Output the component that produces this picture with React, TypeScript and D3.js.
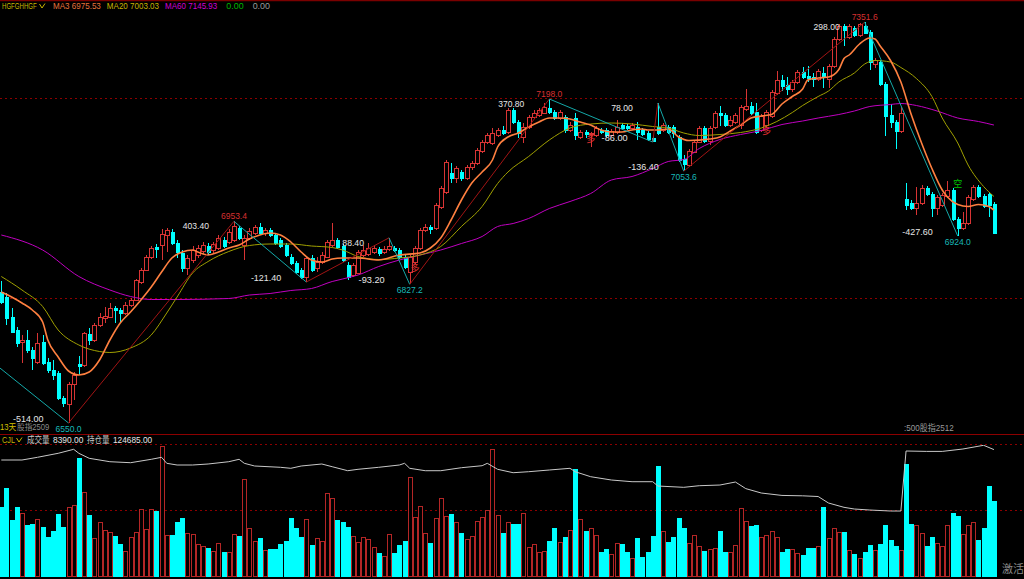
import React from 'react';
import * as d3 from 'd3';

// ---------- DATA ----------
// [open, high, low, close]
const candles: [number, number, number, number][] = [
  [6812,6834,6788,6792],[6802,6810,6746,6760],[6762,6780,6730,6732],[6736,6742,6702,6710],[6712,6726,6670,6716],
  [6716,6736,6690,6696],[6696,6702,6656,6680],[6672,6730,6668,6710],[6712,6726,6666,6670],[6672,6680,6650,6656],
  [6656,6676,6636,6646],[6650,6654,6596,6600],[6600,6604,6582,6590],[6588,6632,6550,6628],[6628,6652,6596,6646],
  [6668,6684,6646,6664],[6666,6732,6662,6730],[6728,6740,6706,6716],[6716,6750,6712,6746],[6746,6770,6742,6762],
  [6760,6782,6750,6764],[6762,6790,6760,6780],[6780,6784,6750,6776],[6776,6780,6750,6770],[6770,6792,6766,6786],
  [6786,6800,6782,6796],[6796,6838,6794,6836],[6832,6860,6828,6856],[6856,6886,6854,6882],[6882,6904,6878,6900],
  [6902,6908,6880,6898],[6906,6938,6876,6928],[6926,6940,6892,6936],[6932,6938,6906,6910],[6910,6916,6880,6892],
  [6890,6896,6852,6860],[6860,6886,6846,6880],[6876,6904,6870,6896],[6886,6906,6880,6900],[6894,6912,6888,6906],
  [6904,6910,6886,6892],[6896,6912,6890,6908],[6900,6926,6896,6920],[6916,6922,6900,6904],[6912,6938,6908,6932],
  [6916,6953.4,6912,6944],[6940,6944,6916,6920],[6906,6926,6876,6920],[6920,6940,6916,6934],[6930,6946,6926,6942],
  [6942,6950,6926,6930],[6930,6940,6924,6936],[6936,6940,6922,6926],[6926,6930,6906,6910],[6916,6920,6900,6904],
  [6906,6910,6882,6886],[6882,6888,6866,6870],[6870,6874,6848,6852],[6856,6860,6838,6842],[6842,6884,6832,6880],
  [6880,6886,6852,6856],[6860,6882,6852,6872],[6872,6892,6868,6886],[6882,6916,6880,6912],[6906,6950,6902,6916],
  [6916,6920,6898,6902],[6904,6908,6872,6876],[6866,6872,6836,6842],[6846,6870,6842,6866],[6850,6896,6848,6892],
  [6886,6906,6882,6896],[6888,6910,6884,6900],[6892,6906,6888,6900],[6898,6902,6884,6890],[6892,6904,6888,6898],
  [6898,6920.4,6894,6904],[6900,6904,6892,6896],[6896,6900,6878,6882],[6882,6886,6858,6862],[6852,6886,6827.2,6882],
  [6872,6904,6868,6900],[6900,6940,6896,6936],[6936,6948,6932,6942],[6942,6946,6928,6938],[6940,6990,6936,6986],
  [6982,7024,6978,7020],[7012,7076,7008,7072],[7050,7070,7030,7040],[7040,7064,7030,7060],[7052,7056,7034,7040],
  [7040,7066,7036,7062],[7062,7074,7056,7070],[7070,7100,7066,7096],[7094,7116,7090,7112],[7112,7130,7108,7126],
  [7110,7140,7106,7130],[7126,7140,7122,7136],[7136,7144,7126,7130],[7132,7180,7128,7176],[7176,7180,7148,7152],
  [7152,7156,7120,7130],[7122,7150,7110,7142],[7142,7166,7138,7162],[7162,7176,7158,7170],[7166,7180,7162,7176],
  [7170,7190,7168,7182],[7180,7198,7168,7172],[7172,7176,7156,7160],[7160,7176,7156,7172],[7162,7166,7130,7136],
  [7136,7152,7132,7146],[7160,7170,7116,7126],[7122,7136,7118,7132],[7132,7136,7120,7128],[7128,7132,7102,7130],
  [7126,7144,7122,7140],[7136,7140,7128,7132],[7136,7140,7122,7126],[7126,7138,7122,7134],[7132,7156,7128,7142],
  [7146,7150,7136,7140],[7144,7148,7136,7140],[7140,7150,7136,7146],[7142,7152,7116,7132],[7136,7140,7124,7128],
  [7130,7134,7114,7118],[7120,7124,7112,7114],[7142,7190,7126,7130],[7136,7150,7132,7146],[7142,7146,7128,7132],
  [7142,7146,7120,7130],[7122,7126,7072,7076],[7078,7086,7053.6,7068],[7066,7098,7062,7094],[7092,7116,7090,7112],
  [7112,7144,7110,7140],[7140,7144,7110,7114],[7114,7144,7106,7140],[7142,7174,7138,7170],[7170,7184,7144,7166],
  [7166,7170,7142,7146],[7146,7164,7142,7156],[7152,7170,7148,7166],[7146,7186,7138,7182],[7178,7218,7174,7184],
  [7184,7192,7166,7170],[7172,7190,7128,7132],[7136,7168,7132,7164],[7146,7176,7140,7172],[7164,7216,7160,7212],
  [7210,7254,7206,7236],[7236,7246,7214,7224],[7226,7242,7206,7218],[7218,7236,7212,7232],[7232,7256,7228,7252],
  [7252,7262,7238,7242],[7244,7264,7232,7240],[7242,7250,7222,7238],[7238,7258,7234,7254],[7250,7262,7220,7242],
  [7238,7268,7220,7264],[7264,7322,7260,7318],[7318,7348,7314,7344],[7344,7348,7304,7336],[7322,7348,7318,7344],
  [7340,7344,7322,7326],[7326,7350,7322,7348],[7344,7351.6,7328,7330],[7332,7336,7256,7272],[7268,7280,7260,7276],
  [7272,7276,7224,7228],[7228,7232,7124,7164],[7166,7188,7140,7152],[7152,7156,7098,7134],[7134,7182,7130,7170],
  [6998,7030,6976,6986],[6990,6996,6976,6980],[6980,7022,6966,6990],[6990,7026,6986,7020],[7020,7024,7004,7008],
  [7008,7012,6962,6980],[6980,7006,6966,7002],[6986,7010,6982,7006],[7004,7034,7000,7016],[7016,7020,6954,6958],
  [6958,6962,6924,6940],[6940,6972,6936,6950],[6950,7006,6946,7002],[6998,7026,6994,7022],[7022,7026,7000,7004],
  [7004,7008,6980,6984],[7008,7012,6962,6986],[6988,6992,6928,6930],
];

const volumes: number[] = [
  7728,9856,6272,7728,7056,5712,5824,6384,5488,4368,5040,6944,5488,7728,7952,13216,9408,6832,4256,6048,
  5152,4928,4480,3584,2800,4368,4928,7504,5264,7504,7280,14560,4592,4592,6048,6496,4816,4704,3584,3360,
  3136,2800,3696,2688,2688,4704,4480,10864,5376,3920,4256,2912,3024,3024,3584,3920,6496,5376,4368,6384,
  3472,4256,3920,9296,8736,6272,6048,5488,4480,3808,4368,4144,3248,2576,2240,4704,2576,3472,3920,11088,
  6608,7840,4816,3696,6496,8736,6720,6944,6048,4816,4144,4480,6160,6608,7392,14224,6832,4816,6048,5824,
  5824,7056,3248,3584,2688,2800,3920,5376,3808,4368,5152,11984,6384,5040,5376,4592,2688,3024,2464,3696,
  3584,2688,2016,4256,2128,2688,4480,12320,5040,3808,4368,6496,5376,3696,4592,3360,2800,3024,3136,5040,
  2688,2688,3472,7616,6160,5600,5712,4368,4592,5040,4368,2688,3024,3024,2576,2352,3136,3136,3360,7728,
  4256,5376,4928,4928,2912,2464,2016,2688,3472,2912,3584,5712,4032,3360,2912,12544,5880,5712,4816,3360,
  4368,3696,3360,5712,7056,6720,4704,5712,6048,4032,5376,10080,8390,
];

// moving averages: [candle index, value]
const ma3Pts: [number, number][] = [
  [0,6812],[2,6802],[4,6790],[6,6776],[8,6752],[9,6716],[11,6682],[13,6654],[15,6646],[17,6652],[19,6676],
  [21,6716],[23,6750],[25,6772],[27,6796],[29,6822],[31,6852],[33,6880],[35,6892],[37,6896],[38,6892],[40,6886],
  [42,6892],[44,6900],[46,6906],[48,6918],[50,6926],[52,6930],[54,6926],[56,6912],[58,6892],[60,6876],[62,6872],
  [64,6878],[66,6880],[69,6880],[73,6876],[77,6886],[81,6890],[83,6900],[85,6920],[87,6956],[89,6996],[91,7030],
  [93,7052],[95,7076],[96,7102],[98,7122],[100,7130],[102,7142],[104,7152],[106,7160],[108,7160],[110,7158],
  [112,7152],[114,7146],[116,7136],[118,7132],[120,7132],[122,7136],[124,7138],[125,7136],[127,7136],[129,7138],
  [131,7122],[133,7115],[137,7118],[139,7122],[141,7134],[143,7146],[145,7160],[147,7164],[149,7167],[151,7188],
  [153,7203],[155,7218],[156,7236],[158,7240],[160,7242],[162,7257],[163,7279],[164,7286],[166,7308],[168,7320],
  [169,7318],[170,7304],[172,7275],[174,7232],[176,7167],[178,7110],[180,7059],[182,7016],[183,7002],[185,6987],
  [187,6983],[189,6987],[191,6983],[192,6975.53],
];
const ma20Pts: [number, number][] = [
  [0,6843],[4,6816],[8,6783],[11,6736],[15,6706],[19,6693],[21,6691],[25,6700],[29,6726],[32,6770],[34,6802],
  [37,6850],[40,6873],[44,6893],[48,6905],[52,6908],[56,6908],[60,6904],[64,6901],[66,6896],[69,6883],[73,6877],
  [77,6880],[81,6886],[85,6903],[89,6943],[93,6983],[96,7029],[98,7052],[102,7083],[106,7116],[110,7140],
  [114,7148],[118,7150],[122,7148],[126,7143],[129,7140],[132,7130],[135,7125],[139,7127],[143,7131],[147,7140],
  [150,7153],[153,7171],[155,7185],[158,7203],[160,7214],[162,7232],[165,7250],[167,7268],[169,7275],[172,7272],
  [174,7261],[177,7239],[180,7203],[182,7160],[185,7110],[187,7066],[190,7023],[192,7003.03],
];
const ma60Pts: [number, number][] = [
  [0,6926],[8,6896],[15,6843],[21,6816],[25,6803],[29,6797],[34,6797],[44,6799],[48,6806],[52,6809],[56,6815],
  [60,6819],[64,6833],[66,6838],[69,6846],[73,6863],[77,6876],[81,6886],[85,6896],[89,6909],[93,6923],[96,6943],
  [99,6949],[102,6959],[106,6979],[110,6993],[114,7009],[118,7036],[122,7043],[126,7059],[129,7073],[132,7077],
  [135,7099],[139,7117],[143,7127],[147,7135],[151,7147],[155,7154],[158,7160],[162,7167],[165,7174],[168,7183],
  [172,7187],[174,7189],[177,7185],[181,7174],[185,7160],[189,7153],[192,7145.93],
];
// open interest: [candle index, value]
const oiPts: [number, number][] = [
  [0,119485],[4,119485],[7,120835],[11,122835],[14,124835],[15,122835],[17,120335],[21,118635],[25,118135],
  [29,119835],[31,120835],[32,117835],[34,116985],[37,116985],[40,117485],[44,118635],[46,119835],[47,117835],
  [49,116485],[54,115835],[56,115335],[58,116485],[62,117485],[64,116135],[67,114135],[69,114835],[73,115835],
  [77,116985],[78,117835],[79,115335],[82,114135],[85,114135],[89,115635],[93,116635],[94,117835],[96,114835],
  [99,113135],[102,113635],[106,114485],[110,115335],[111,113635],[114,111135],[118,109485],[122,108635],
  [126,108635],[127,106485],[132,105835],[135,106635],[139,106985],[142,108485],[144,105185],[147,102985],
  [151,101785],[155,101585],[158,101235],[160,97985],[163,95835],[165,94985],[168,94485],[172,93985],[174,93985],
  [175,123985],[179,123785],[182,123785],[186,124985],[190,126835],[192,124685],
];
// zigzag pivots: [candle index, price, show price label]
const pivots: [number, number, boolean][] = [
  [-49,7064,false],[13,6550,true],[45,6953.4,true],[59,6832,false],[75,6920.4,false],[79,6827.2,true],
  [106,7198,true],[126,7112,false],[127,7190,false],[132,7053.6,true],[167,7351.6,true],[185,6924,true],
];
const priceGrid = [6800, 7200];
const volGrid = [7400, 14800];
// signal marks: [candle index, price, text, kind]
const signals: [number, number, string, string][] = [
  [80, 6862, '多', 'up'], [114, 7120, '多', 'up'], [148, 7136, '多', 'up'], [185, 7030, '空', 'dn'],
];

const legend: [string, string][] = [
  ['MA3 6975.53', '#e8743c'], ['MA20 7003.03', '#c8b400'], ['MA60 7145.93', '#d000d0'],
  ['0.00', '#00b400'], ['0.00', '#9a9a9a'],
];

// ---------- STYLE ----------
const UP = '#d83434';
const UPV = '#b42626';
const DN = '#00ffff';
const FONT = "'Liberation Sans', Arial, sans-serif";
const CJK = "'Noto Sans CJK SC', sans-serif";

const tlen = (s: string) => {
  let w = 0;
  for (const ch of s) w += /[\u2E80-\u9FFF\uFF00-\uFFEF]/.test(ch) ? 7.5 : 4.35;
  return w;
};

function T({ x, y, s, fill, anchor = 'start', size = 9 }: any) {
  return (
    <text x={x} y={y} fill={fill} fontSize={size} fontFamily={FONT + ',' + CJK}
      textAnchor={anchor} dominantBaseline="central"
      textLength={tlen(s)} lengthAdjust="spacingAndGlyphs">{s}</text>
  );
}

export default function App() {
  const N = candles.length;
  const x = d3.scaleLinear().domain([0, N - 1]).range([1.3, 1.3 + 5.17 * (N - 1)]);
  const yP = d3.scaleLinear().domain([6800, 7200]).range([298, 98]);
  const yV = d3.scaleLinear().domain([0, 14800]).range([576, 444]);
  const yOI = d3.scaleLinear().domain([94000, 124685]).range([511, 449.6]);

  const mkLine = (pts: [number, number][], ys: any, curve: any = d3.curveMonotoneX) =>
    d3.line<[number, number]>().x(d => x(d[0])).y(d => ys(d[1])).curve(curve)(pts) || '';

  const legs = pivots.slice(1).map((p, k) => {
    const a = pivots[k];
    return { a, b: p, up: p[1] > a[1], diff: p[1] - a[1] };
  });

  let lx = 53;
  const legendEls = legend.map(([s, c], k) => {
    const el = <T key={k} x={lx} y={6} s={s} fill={c} />;
    lx += tlen(s) + (k < 2 ? 6 : 9);
    return el;
  });

  return (
    <>
      <style>{`body{margin:0;background:#000;overflow:hidden}`}</style>
      <svg width={1024} height={579} style={{ display: 'block', background: '#000' }}>
        <defs>
          <clipPath id="cp"><rect x={0} y={12} width={1024} height={422} /></clipPath>
          <clipPath id="cv"><rect x={0} y={445} width={1024} height={134} /></clipPath>
        </defs>
        <rect width={1024} height={579} fill="#000" />
        <line x1={0} x2={1024} y1={0.5} y2={0.5} stroke="#7a0000" strokeWidth={1.5} />
        <line x1={0} x2={1024} y1={434.5} y2={434.5} stroke="#8c0000" />
        {priceGrid.map(v => (
          <line key={v} x1={0} x2={1024} y1={Math.round(yP(v)) + 0.5} y2={Math.round(yP(v)) + 0.5}
            stroke="#8c0000" strokeDasharray="2,3" />
        ))}
        {volGrid.map(v => (
          <line key={v} x1={0} x2={1024} y1={Math.round(yV(v)) + 0.5} y2={Math.round(yV(v)) + 0.5}
            stroke="#8c0000" strokeDasharray="2,3" />
        ))}

        <g clipPath="url(#cp)">
          <g shapeRendering="crispEdges">
            {candles.map(([o, h, l, c], i) => {
              const cx = Math.round(x(i));
              const up = c >= o;
              const top = yP(Math.max(o, c));
              const bot = yP(Math.min(o, c));
              const bh = Math.max(1, bot - top);
              if (up) {
                return (
                  <g key={i} stroke={UP}>
                    <line x1={cx + 0.5} x2={cx + 0.5} y1={yP(h)} y2={top} />
                    <line x1={cx + 0.5} x2={cx + 0.5} y1={top + bh} y2={yP(l)} />
                    <rect x={cx - 1.5} y={top} width={4} height={bh} fill="#000" />
                  </g>
                );
              }
              return (
                <g key={i}>
                  <line x1={cx + 0.5} x2={cx + 0.5} y1={yP(h)} y2={yP(l)} stroke={DN} />
                  <rect x={cx - 1.5} y={top} width={4} height={bh + 0.5} fill={DN} />
                </g>
              );
            })}
          </g>
          <path d={mkLine(ma60Pts, yP)} fill="none" stroke="#c000c0" strokeWidth={1} />
          <path d={mkLine(ma20Pts, yP)} fill="none" stroke="#a0a000" strokeWidth={1} />
          <path d={mkLine(ma3Pts, yP)} fill="none" stroke="#ff8040" strokeWidth={1.6} />
          {legs.map((g, k) => (
            <line key={k} x1={x(g.a[0])} y1={yP(g.a[1])} x2={x(g.b[0])} y2={yP(g.b[1])}
              stroke={g.up ? '#a01414' : '#14a8a8'} strokeWidth={1} />
          ))}
          {signals.map(([i, p, s, k], n) => (
            <text key={n} x={x(i)} y={yP(p)} fontSize={9} fontFamily={CJK} textAnchor="middle"
              dominantBaseline="central" fill={k === 'up' ? '#e03030' : '#00c000'}>{s}</text>
          ))}
        </g>

        {legs.map((g, k) => {
          const px = x(g.b[0]);
          const py = yP(g.b[1]);
          const lab = g.diff.toFixed(2);
          return (
            <g key={k}>
              <T x={px - 25} y={py + (g.up ? 5 : -4.5)} s={lab} fill="#e6e6e6" anchor="end" />
              {g.b[2] && (
                <T x={px} y={py + (g.up ? -5 : 6)} s={g.b[1].toFixed(1)}
                  fill={g.up ? '#d83030' : '#18b8b8'} anchor="middle" />
              )}
            </g>
          );
        })}

        <T x={2} y={6} s="HGFGHHGF" fill="#c8b400" />
        <path d="M39.5,4 L42,8 L45,3.5" fill="none" stroke="#c8b400" strokeWidth={1} />
        {legendEls}

        <T x={0} y={427} s="13天" fill="#d2c000" size={8.5} />
        <T x={17} y={427} s="股指2509" fill="#8a8a8a" size={8.5} />
        <T x={904} y={428} s=":500股指2512" fill="#9a9a9a" />

        <T x={2} y={440} s="CJL" fill="#c8b400" />
        <path d="M16.5,438 L19,442 L22,437.5" fill="none" stroke="#c8b400" strokeWidth={1} />
        <T x={27} y={440} s="成交量" fill="#c8c8c8" />
        <T x={53} y={440} s="8390.00" fill="#e6e6e6" />
        <T x={87} y={440} s="持仓量" fill="#c8c8c8" />
        <T x={113} y={440} s="124685.00" fill="#e6e6e6" />

        <g clipPath="url(#cv)">
          <g shapeRendering="crispEdges">
            {volumes.map((v, i) => {
              const cx = Math.round(x(i));
              const [o, , , c] = candles[i];
              const up = c >= o;
              const top = yV(v);
              return up ? (
                <rect key={i} x={cx - 1.5} y={top} width={4} height={576 - top} fill="#000" stroke={UPV} />
              ) : (
                <rect key={i} x={cx - 2} y={top} width={5} height={577 - top} fill={DN} />
              );
            })}
          </g>
          <path d={mkLine(oiPts, yOI, d3.curveLinear)} fill="none" stroke="#c8c8c8" strokeWidth={1} />
        </g>

        <text x={1002} y={573} fontSize={11} fontFamily={CJK} fill="#8a8a8a">激活</text>
      </svg>
    </>
  );
}
